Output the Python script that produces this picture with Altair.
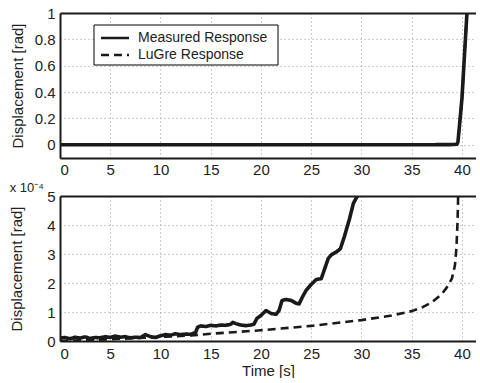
import altair as alt
import pandas as pd

FONT = "Liberation Sans"
INK = "#1a1a1a"

SERIES = ["Measured Response", "LuGre Response"]

# ---- top panel (rad) ----
top_meas_t = [0, 5, 10, 15, 20, 25, 30, 35, 39.3, 39.5, 39.6, 39.7, 40.0, 40.5, 40.7]
top_meas_v = [0, 0, 0, 0, 0, 0, 0, 0, 0.002, 0.005, 0.02, 0.1, 0.35, 1.0, 1.25]
top_lugre_t = [0, 5, 10, 15, 20, 25, 30, 35, 39.3, 39.5, 39.6, 39.7, 40.0, 40.5, 40.7]
top_lugre_v = [0, 0, 0, 0, 0, 0, 0, 0, 0.0002, 0.0003, 0.02, 0.1, 0.35, 1.0, 1.25]

# ---- bottom panel (x 1e-4 rad) ----
bot_meas_t = [0, 0.5, 1, 1.5, 2, 2.5, 3, 3.5, 4, 4.5, 5, 5.5, 6, 6.5, 7, 7.5, 8, 8.5,
              9, 9.5, 10, 10.5, 11, 11.5, 12, 12.5, 13, 13.5, 13.7, 14, 14.5, 15,
              15.5, 16, 16.5, 17, 17.2, 17.5, 18, 18.5, 19, 19.3, 19.6, 20, 20.5, 21,
              21.5, 21.8, 22.1, 22.5, 23, 23.5, 23.8, 24.1, 24.5, 25, 25.5, 26, 26.3,
              26.7, 27, 27.5, 27.9, 28.3, 28.8, 29.2, 29.6, 29.8]
bot_meas_v = [0.10, 0.12, 0.08, 0.13, 0.10, 0.14, 0.09, 0.12, 0.11, 0.15, 0.12, 0.17,
              0.13, 0.15, 0.11, 0.13, 0.12, 0.22, 0.15, 0.12, 0.18, 0.22, 0.20, 0.25,
              0.22, 0.24, 0.23, 0.30, 0.48, 0.52, 0.50, 0.54, 0.52, 0.55, 0.54, 0.58,
              0.64, 0.60, 0.55, 0.53, 0.55, 0.58, 0.78, 0.88, 1.05, 0.95, 0.92, 1.05,
              1.40, 1.43, 1.40, 1.30, 1.28, 1.50, 1.75, 1.95, 2.12, 2.15, 2.45, 2.85,
              2.97, 3.07, 3.18, 3.60, 4.20, 4.75, 5.00, 5.10]
bot_lugre_t = [0, 5, 10, 13, 15, 20, 25, 30, 33, 35, 36, 37, 38, 38.5, 39, 39.3,
               39.45, 39.55, 39.6, 39.63]
bot_lugre_v = [0.0, 0.06, 0.14, 0.19, 0.25, 0.37, 0.52, 0.72, 0.88, 1.03, 1.15, 1.33,
               1.62, 1.85, 2.15, 2.6, 3.2, 4.0, 4.6, 5.2]

X_TICKS = [0, 5, 10, 15, 20, 25, 30, 35, 40]
TOP_Y_TICKS = [0, 0.2, 0.4, 0.6, 0.8, 1]
BOT_Y_TICKS = [0, 1, 2, 3, 4, 5]


def long_df(mt, mv, lt, lv):
    a = pd.DataFrame({"t": mt, "v": mv, "series": SERIES[0], "o": range(len(mt))})
    b = pd.DataFrame({"t": lt, "v": lv, "series": SERIES[1], "o": range(len(lt))})
    return pd.concat([b, a], ignore_index=True)


top_df = long_df(top_meas_t, top_meas_v, top_lugre_t, top_lugre_v)
bot_df = long_df(bot_meas_t, bot_meas_v, bot_lugre_t, bot_lugre_v)

W, H = 416, 145
x_scale = alt.Scale(domain=[0, 41.4], nice=False, zero=False)

DASHES = [[1, 0], [8, 5]]
dash_scale = alt.Scale(domain=SERIES, range=DASHES)
width_scale = alt.Scale(domain=SERIES, range=[3.6, 2.6])

AX = dict(labelFont=FONT, labelFontSize=15, labelColor="#222",
          titleFont=FONT, titleFontSize=15, titleFontWeight="normal", titleColor="#222",
          domainColor=INK, domainWidth=2, gridColor="#999", gridDash=[1, 3],
          gridWidth=1, ticks=False)


def legend_layers():
    # legend box inside the top panel (pixel placement of the key only)
    box = alt.Chart(pd.DataFrame({"k": [0]})).mark_rect(
        fill="white", stroke="black", strokeWidth=1
    ).encode(x=alt.value(34), x2=alt.value(218), y=alt.value(12), y2=alt.value(52))
    layers = [box]
    for i, name in enumerate(SERIES):
        ypix = 25 + 17 * i
        row = pd.DataFrame({"series": [name]})
        sample = alt.Chart(row).mark_rule(
            color=INK, strokeWidth=2.6, strokeDash=DASHES[i]
        ).encode(x=alt.value(41), x2=alt.value(69), y=alt.value(ypix))
        label = alt.Chart(row).mark_text(
            align="left", baseline="middle", font=FONT, fontSize=14, color="#222"
        ).encode(x=alt.value(78), y=alt.value(ypix), text="series:N")
        layers += [sample, label]
    return layers


def panel(df, y_dom, y_ticks, y_title_pad, show_legend, x_title, x_lab_pad):
    x_kwargs = dict(values=X_TICKS, grid=True, labelPadding=x_lab_pad, **AX)
    if x_title:
        x_kwargs.update(title=x_title, titlePadding=2)
    else:
        x_kwargs.update(title=None)
    x_axis = alt.Axis(**x_kwargs)
    y_axis = alt.Axis(values=y_ticks, grid=True, labelPadding=5,
                      title="Displacement [rad]", titlePadding=y_title_pad,
                      format="~g", **AX)
    lines = alt.Chart(df).mark_line(color=INK, clip=True, strokeJoin="round").encode(
        x=alt.X("t:Q", scale=x_scale, axis=x_axis),
        y=alt.Y("v:Q", scale=alt.Scale(domain=y_dom, nice=False, zero=False),
                axis=y_axis),
        strokeDash=alt.StrokeDash("series:N", scale=dash_scale, legend=None),
        strokeWidth=alt.StrokeWidth("series:N", scale=width_scale, legend=None),
        detail="series:N",
        order="o:Q",
    )
    border = alt.Chart(df).mark_point(opacity=0).encode(
        x=alt.X("t:Q", scale=x_scale,
                axis=alt.Axis(orient="top", labels=False, ticks=False, grid=False,
                              title=None, domainWidth=2, domainColor=INK)),
    )
    layers = [lines, border]
    if show_legend:
        layers += legend_layers()
    return alt.layer(*layers).resolve_axis(x="independent").properties(
        width=W, height=H)


top = panel(top_df, [-0.1, 1], TOP_Y_TICKS, 9, True, None, 4)
bot = panel(bot_df, [0, 5], BOT_Y_TICKS, 22, False, "Time [s]", 5).properties(
    title=alt.TitleParams("x 10⁻⁴", anchor="start", fontSize=13, fontWeight="normal",
                          font=FONT, color="#222", offset=-6))

chart = alt.vconcat(top, bot, spacing=5).properties(
    padding={"left": 9, "top": 6, "right": 0, "bottom": 0},
    background="white",
).configure_view(stroke=None)

chart.save("out.html", embed_options={"renderer": "svg", "actions": False})
